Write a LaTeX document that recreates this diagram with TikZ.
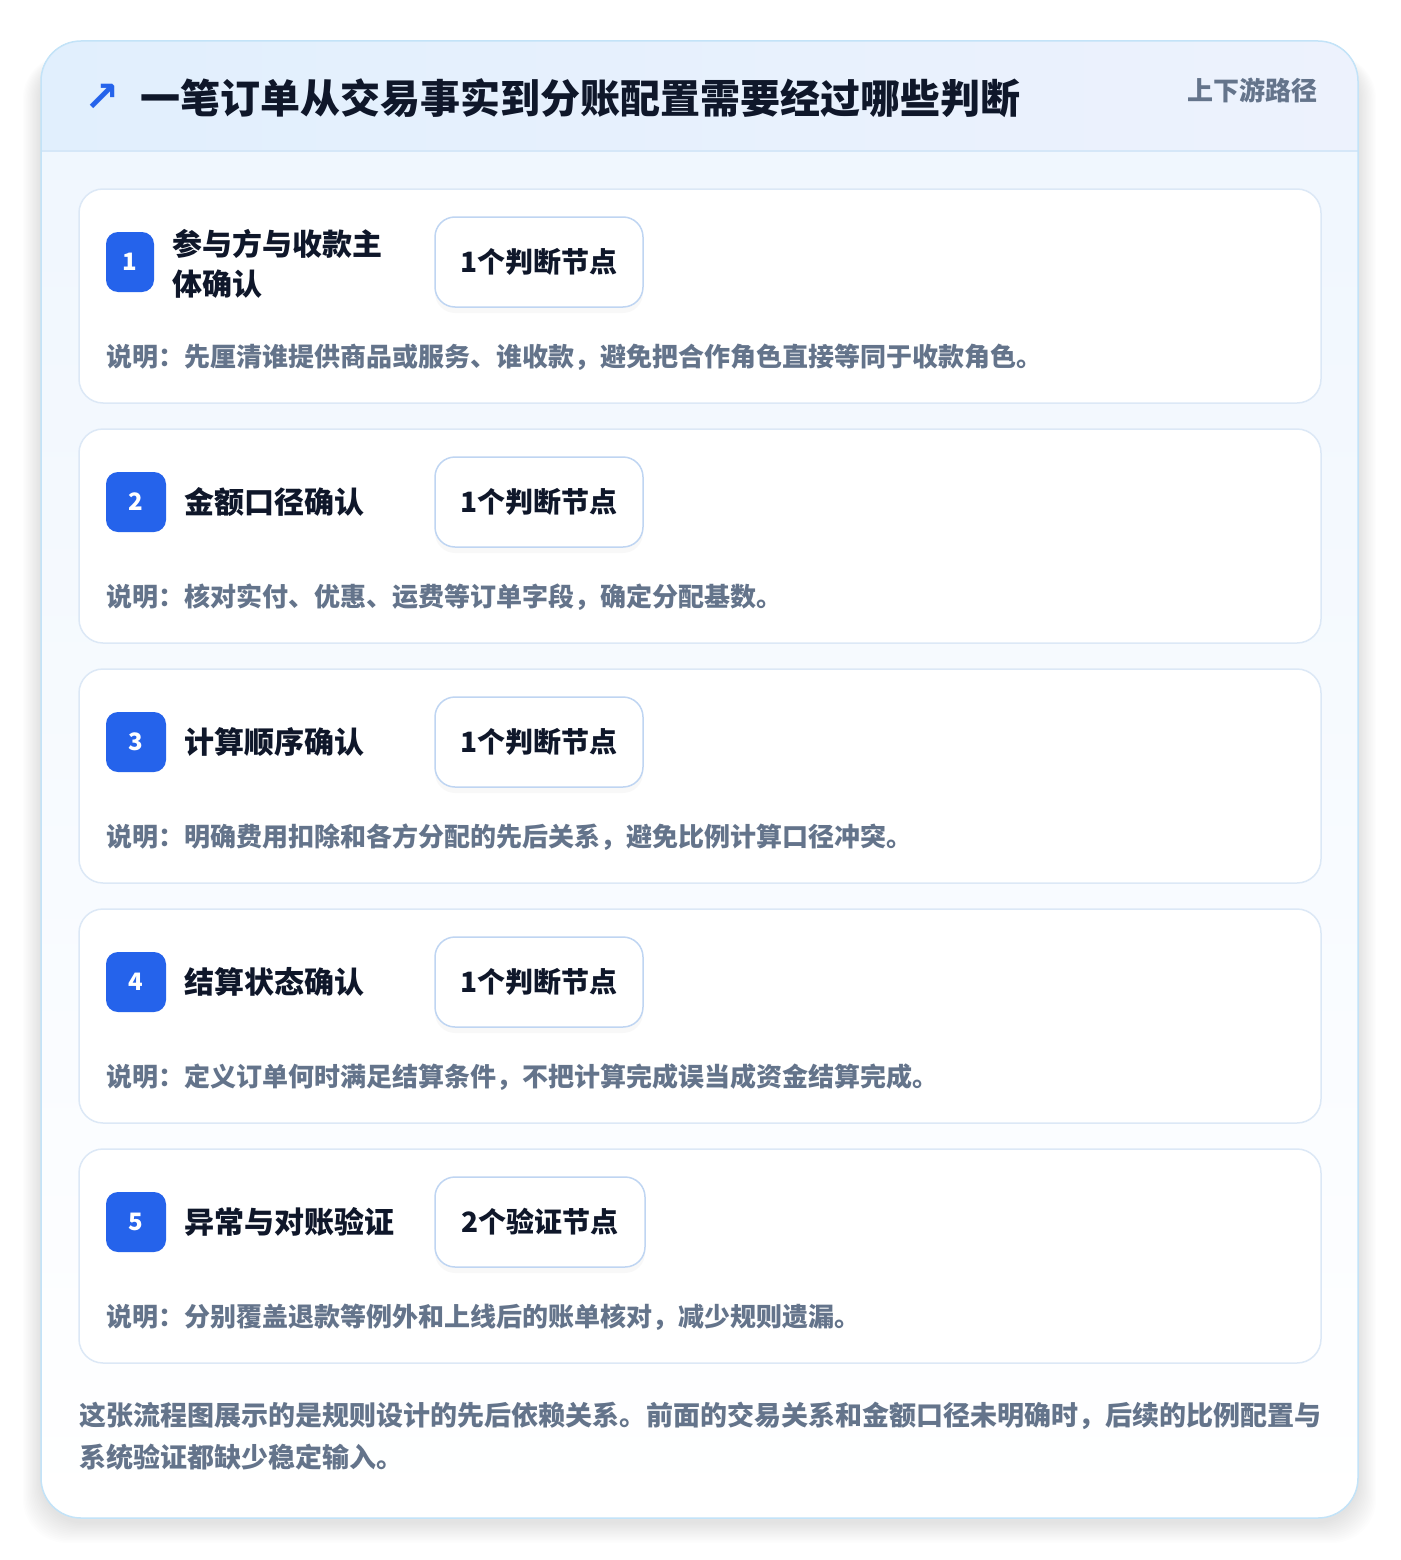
\documentclass[tikz,border=0pt]{standalone}
\usepackage{fontspec}
\setmainfont{Noto Sans CJK SC}
\newfontfamily\symfont{DejaVu Sans}
\usepackage{tikz}
\usetikzlibrary{shadows}

\definecolor{ink}{HTML}{0F172A}
\definecolor{mutegray}{HTML}{64748B}
\definecolor{badgeblue}{HTML}{2563EB}
\definecolor{outerline}{HTML}{C3E3F8}
\definecolor{cardline}{HTML}{DCE8F6}
\definecolor{tagline}{HTML}{BFD5F2}
\definecolor{headleft}{HTML}{E1EFFD}
\definecolor{headright}{HTML}{EDF2FD}
\definecolor{headrule}{HTML}{D5E7F8}
\definecolor{paneltop}{HTML}{EFF6FE}

\begin{document}
\begin{tikzpicture}[x=1pt, y=-1pt,
    card/.style={draw=cardline, line width=1.5pt, fill=white, rounded corners=24pt, minimum width=1242pt, minimum height=214pt, inner sep=0pt},
    badge/.style={fill=badgeblue, rounded corners=12pt, minimum height=60pt, inner sep=0pt, text=white, font=\fontsize{24}{24}\selectfont\bfseries},
    steptitle/.style={anchor=west, inner sep=0pt, align=left, text=ink, font=\fontsize{30}{40}\selectfont\bfseries},
    tagbox/.style={draw=tagline, line width=1.5pt, fill=white, rounded corners=20pt, minimum height=90pt, inner sep=0pt, text=ink, font=\fontsize{28}{28}\selectfont\bfseries, drop shadow={shadow xshift=0pt, shadow yshift=-6pt, opacity=0.05}},
    note/.style={anchor=west, inner sep=0pt, text=mutegray, font=\fontsize{26}{26}\selectfont\bfseries}]

    \useasboundingbox (0,0) rectangle (1400,1560);

    % soft shadow of the panel
    \foreach \i in {1,...,14}
        \fill[black, opacity=0.006, rounded corners=44pt] (41-1.3*\i,41+14) rectangle (1358+1.3*\i,1518+1.5*\i+4);

    % panel and header band
    \begin{scope}
        \clip[rounded corners=40pt] (41,41) rectangle (1358,1518);
        \fill[top color=paneltop, bottom color=white] (41,41) rectangle (1358,1518);
        \fill[left color=headleft, right color=headright] (41,41) rectangle (1358,151);
        \draw[headrule, line width=1.5pt] (41,151) -- (1358,151);
    \end{scope}
    \draw[outerline, line width=1.5pt, rounded corners=40pt] (41,41) rectangle (1358,1518);

    \node (icon)    at (102,98)  [text=badgeblue, font=\fontsize{42}{42}\selectfont\symfont\bfseries] {↗};
    \node (heading) at (140,98)  [anchor=west, inner sep=0pt, text=ink, font=\fontsize{40}{40}\selectfont\bfseries] {一笔订单从交易事实到分账配置需要经过哪些判断};
    \node (path)    at (1318,90) [anchor=east, inner sep=0pt, text=mutegray, font=\fontsize{26}{26}\selectfont\bfseries] {上下游路径};

    % step 1
    \node (card1)  at (700,296) [card] {};
    \node (badge1) at (130,262) [badge, minimum width=48pt] {1};
    \node (title1) at (172,264) [steptitle] {参与方与收款主\\体确认};
    \node (tag1)   at (539,262) [tagbox, minimum width=208pt] {1个判断节点};
    \node (note1)  at (106,357) [note] {说明：先厘清谁提供商品或服务、谁收款，避免把合作角色直接等同于收款角色。};

    % step 2
    \node (card2)  at (700,536) [card] {};
    \node (badge2) at (136,502) [badge, minimum width=60pt] {2};
    \node (title2) at (184,502) [steptitle] {金额口径确认};
    \node (tag2)   at (539,502) [tagbox, minimum width=208pt] {1个判断节点};
    \node (note2)  at (106,597) [note] {说明：核对实付、优惠、运费等订单字段，确定分配基数。};

    % step 3
    \node (card3)  at (700,776) [card] {};
    \node (badge3) at (136,742) [badge, minimum width=60pt] {3};
    \node (title3) at (184,742) [steptitle] {计算顺序确认};
    \node (tag3)   at (539,742) [tagbox, minimum width=208pt] {1个判断节点};
    \node (note3)  at (106,837) [note] {说明：明确费用扣除和各方分配的先后关系，避免比例计算口径冲突。};

    % step 4
    \node (card4)  at (700,1016) [card] {};
    \node (badge4) at (136,982)  [badge, minimum width=60pt] {4};
    \node (title4) at (184,982)  [steptitle] {结算状态确认};
    \node (tag4)   at (539,982)  [tagbox, minimum width=208pt] {1个判断节点};
    \node (note4)  at (106,1077) [note] {说明：定义订单何时满足结算条件，不把计算完成误当成资金结算完成。};

    % step 5
    \node (card5)  at (700,1256) [card] {};
    \node (badge5) at (136,1222) [badge, minimum width=60pt] {5};
    \node (title5) at (184,1222) [steptitle] {异常与对账验证};
    \node (tag5)   at (540,1222) [tagbox, minimum width=210pt] {2个验证节点};
    \node (note5)  at (106,1317) [note] {说明：分别覆盖退款等例外和上线后的账单核对，减少规则遗漏。};

    \node (summary) at (79,1436) [anchor=west, inner sep=0pt, align=left, text=mutegray, font=\fontsize{27}{42}\selectfont\bfseries] {这张流程图展示的是规则设计的先后依赖关系。前面的交易关系和金额口径未明确时，后续的比例配置与\\系统验证都缺少稳定输入。};
\end{tikzpicture}
\end{document}
